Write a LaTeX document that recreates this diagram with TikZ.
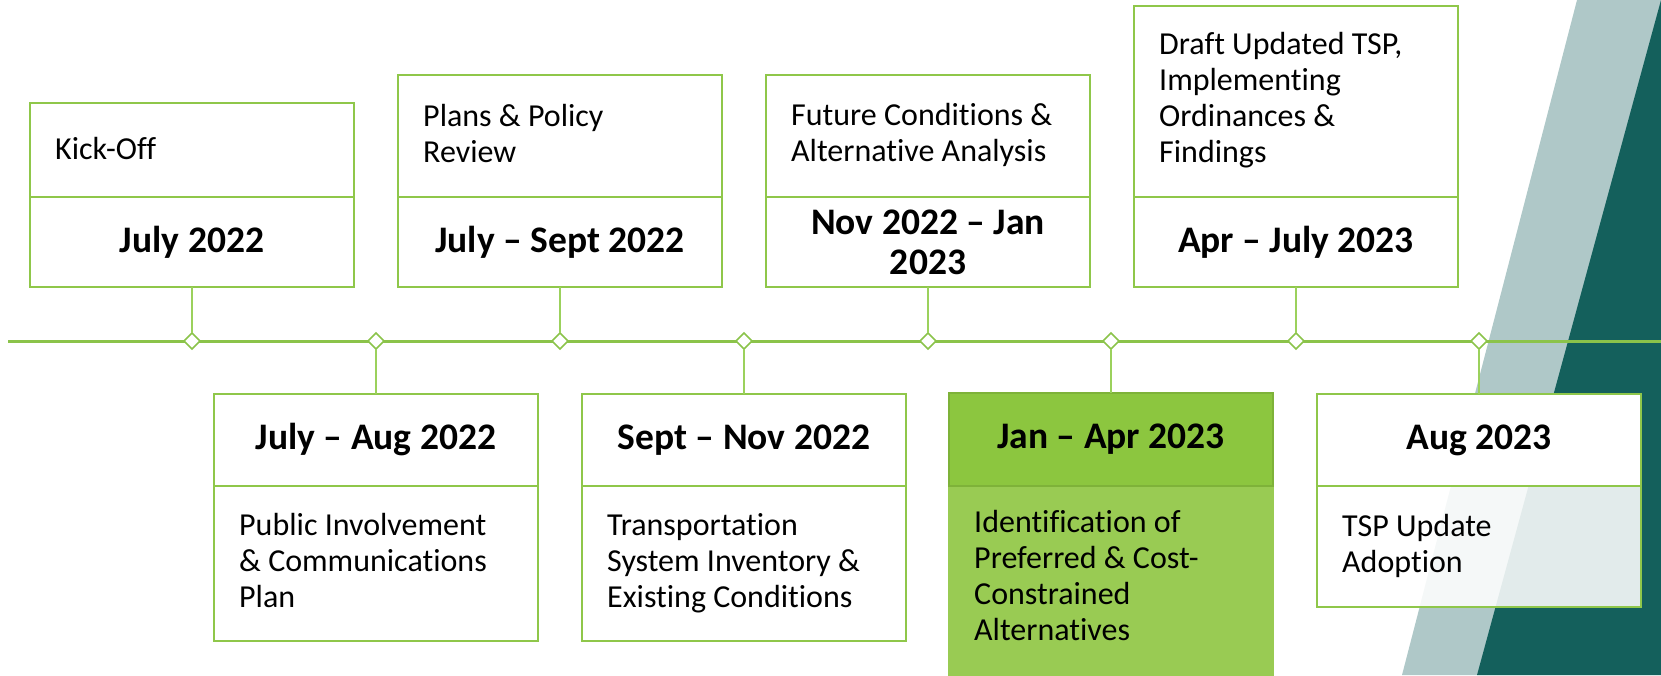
\documentclass[tikz,border=0pt]{standalone}
\usepackage{fontspec}
\setmainfont{Carlito}[Ligatures=NoCommon]
\usetikzlibrary{shapes.geometric}
\definecolor{tealL}{HTML}{AFC8C8}
\definecolor{tealD}{HTML}{14605C}
\definecolor{boxgreen}{HTML}{8FC74A}
\definecolor{linegreen}{HTML}{8BC34A}
\definecolor{conngreen}{HTML}{9BD15C}
\definecolor{hlA}{HTML}{8CC63F}
\definecolor{hlB}{HTML}{99CB53}
\tikzset{
  part/.style={draw=boxgreen, line width=2.5pt, fill=white, rectangle, inner sep=0pt, outer sep=0pt, anchor=north west, minimum width=324pt},
  mark diamond/.style={diamond, draw=linegreen, line width=1.6pt, fill=white, minimum width=16pt, minimum height=16pt, inner sep=0pt, outer sep=0pt},
  conn/.style={draw=conngreen, line width=2pt},
  bodytext/.style={font=\fontsize{32}{36}\selectfont, align=left, anchor=base west, inner sep=0pt},
  datetext/.style={font=\fontsize{37.5}{40}\selectfont\bfseries, align=center, inner sep=0pt},
}
\begin{document}
\begin{tikzpicture}[x=1pt, y=-1pt]
\useasboundingbox (0,0) rectangle (1661,675);
% background
\fill[tealL] (1577,0) -- (1661,0) -- (1661,675) -- (1402,675) -- cycle;
\fill[tealD] (1661,0) -- (1661,675) -- (1477,675) -- cycle;
% timeline
\coordinate (tlL) at (8,341);
\coordinate (tlR) at (1661,341);
\draw[linegreen, line width=3pt] (tlL) -- (tlR);
% markers
\foreach \n/\x in {1/192,2/376,3/560,4/744,5/928,6/1111,7/1296,8/1479}
  \node[mark diamond] (d\n) at (\x,341) {};
% top boxes
\node[part, minimum height=94pt] (t1a) at (30,103) {};
\node[part, minimum height=90pt] (t1b) at (30,197) {};
\node[part, minimum height=122pt] (t2a) at (398,75) {};
\node[part, minimum height=90pt] (t2b) at (398,197) {};
\node[part, minimum height=122pt] (t3a) at (766,75) {};
\node[part, minimum height=90pt] (t3b) at (766,197) {};
\node[part, minimum height=191pt] (t4a) at (1134,6) {};
\node[part, minimum height=90pt] (t4b) at (1134,197) {};
% bottom boxes
\node[part, minimum height=92pt] (b1a) at (214,394) {};
\node[part, minimum height=155pt] (b1b) at (214,486) {};
\node[part, minimum height=92pt] (b2a) at (582,394) {};
\node[part, minimum height=155pt] (b2b) at (582,486) {};
\node[part, draw=hlB, fill=hlB, minimum height=200pt] (b3b) at (949,486) {};
\node[part, draw=hlA!90!black, fill=hlA, minimum height=93pt] (b3a) at (949,393) {};
\node[part, minimum height=92pt] (b4a) at (1317,394) {};
\node[part, fill opacity=0.88, minimum height=121pt] (b4b) at (1317,486) {};
% connectors
\draw[conn] (t1b.south) -- (d1.north);
\draw[conn] (t2b.south) -- (d3.north);
\draw[conn] (t3b.south) -- (d5.north);
\draw[conn] (t4b.south) -- (d7.north);
\draw[conn] (d2.south) -- (b1a.north);
\draw[conn] (d4.south) -- (b2a.north);
\draw[conn] (d6.south) -- (b3a.north);
\draw[conn] (d8.south) -- (b4a.north);
% texts top (anchored at last line baseline)
\node[bodytext] (k1) at (55,159) {Kick-Off};
\node[bodytext] (k2) at (423,162.7) {Plans \& Policy\\Review};
\node[bodytext] (k3) at (791,161.7) {Future Conditions \&\\Alternative Analysis};
\node[bodytext] (k4) at (1159,162.7) {Draft Updated TSP,\\Implementing\\Ordinances \&\\Findings};
\node[datetext] (dt1) at (t1b.center) {July 2022};
\node[datetext] (dt2) at (t2b.center) {July -- Sept 2022};
\node[datetext] (dt3) at (t3b.center) {Nov 2022 -- Jan\\2023};
\node[datetext] (dt4) at (t4b.center) {Apr -- July 2023};
% texts bottom
\node[datetext] (db1) at (b1a.center) {July -- Aug 2022};
\node[datetext] (db2) at (b2a.center) {Sept -- Nov 2022};
\node[datetext] (db3) at (b3a.center) {Jan -- Apr 2023};
\node[datetext] (db4) at (b4a.center) {Aug 2023};
\node[bodytext] (p1) at (239,607.7) {Public Involvement\\\& Communications\\Plan};
\node[bodytext] (p2) at (607,607.7) {Transportation\\System Inventory \&\\Existing Conditions};
\node[bodytext] (p3) at (974,640) {Identification of\\Preferred \& Cost-\\Constrained\\Alternatives};
\node[bodytext] (p4) at (1342,572.7) {TSP Update\\Adoption};
\end{tikzpicture}
\end{document}
